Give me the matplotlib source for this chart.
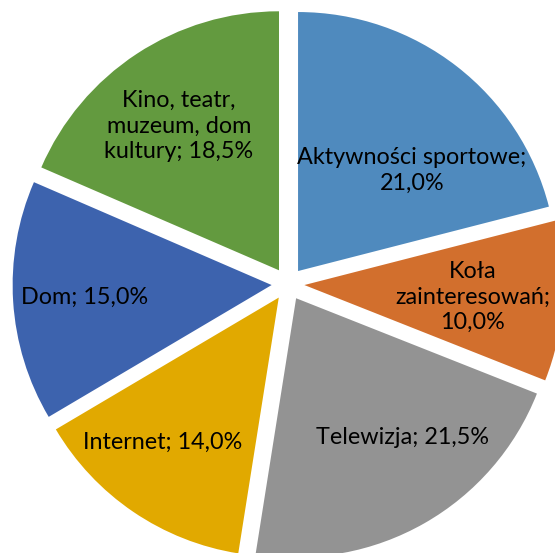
import matplotlib
matplotlib.use("Agg")
import matplotlib.pyplot as plt

plt.rcParams["font.family"] = ["Lato", "DejaVu Sans"]

# Share of students by leisure activity (percent)
categories = [
    "Aktywności sportowe",
    "Koła zainteresowań",
    "Telewizja",
    "Internet",
    "Dom",
    "Kino, teatr, muzeum, dom kultury",
]
shares = [21.0, 10.0, 21.5, 14.0, 15.0, 18.5]
label_texts = [
    "Aktywności sportowe;\n21,0%",
    "Koła\nzainteresowań;\n10,0%",
    "Telewizja; 21,5%",
    "Internet; 14,0%",
    "Dom; 15,0%",
    "Kino, teatr,\nmuzeum, dom\nkultury; 18,5%",
]
colors = ["#4f8abe", "#d26f2d", "#939393", "#e1a900", "#3d63ae", "#639a3f"]

# canvas in pixels, y pointing up
W, H = 555, 553
CX, CY = 288, H - 284
R = 259
EXPLODE = 16.4

# label anchors in pixel coordinates (y down)
label_xy = [(412, 170), (473, 297), (402, 437), (163, 442), (85, 297), (179, 126)]

fig = plt.figure(figsize=(W / 100, H / 100), dpi=100)
ax = fig.add_axes([0, 0, 1, 1])
ax.pie(
    shares,
    colors=colors,
    startangle=90,
    counterclock=False,
    radius=R,
    center=(CX, CY),
    explode=[EXPLODE] * len(shares),
    wedgeprops={"linewidth": 0},
    frame=True,
)
ax.set_xlim(0, W)
ax.set_ylim(0, H)
ax.set_aspect("equal")
ax.axis("off")

for text, (x, y) in zip(label_texts, label_xy):
    ax.text(x, H - y, text, ha="center", va="center", fontsize=16.8,
            color="black", linespacing=1.28)

fig.savefig("out.png", dpi=100)
